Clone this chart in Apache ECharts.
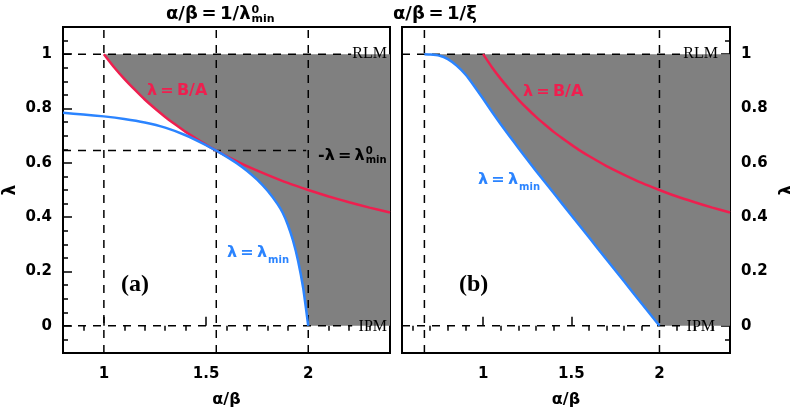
<!DOCTYPE html>
<html><head><meta charset="utf-8">
<script src="https://cdn.jsdelivr.net/npm/echarts@6/dist/echarts.min.js"></script>
<style>html,body{margin:0;padding:0;background:#fff}#c{width:790px;height:408px}</style>
</head><body><div id="c"></div>
<script>
// ---- data ----
const redA = [[1,1],[1.05,0.952],[1.1,0.909],[1.15,0.870],[1.2,0.833],[1.25,0.8],[1.3,0.769],[1.35,0.741],[1.4,0.714],[1.45,0.690],[1.5,0.667],[1.55,0.645],[1.6,0.625],[1.7,0.588],[1.8,0.556],[1.9,0.526],[2.0,0.5],[2.1,0.476],[2.2,0.455],[2.3,0.435],[2.4,0.417]];
const blueA = [[0.8,0.784],[0.9,0.778],[1.0,0.771],[1.1,0.7615],[1.2,0.7485],[1.3,0.7295],[1.4,0.7015],[1.5,0.6655],[1.55,0.645],[1.6,0.623],[1.65,0.599],[1.7,0.571],[1.75,0.538],[1.8,0.498],[1.85,0.448],[1.875,0.416],[1.9,0.372],[1.925,0.315],[1.95,0.24],[1.975,0.14],[2.0,0]];
const redB = redA;
const blueB = [[0.667,1.0],[0.7,0.999],[0.75,0.995],[0.8,0.982],[0.85,0.958],[0.9,0.925],[0.95,0.882],[1.0,0.836],[1.05,0.788],[1.1,0.742],[1.15,0.698],[1.2,0.655],[1.25,0.612],[1.3,0.57],[1.4,0.489],[1.5,0.407],[1.6,0.326],[1.7,0.244],[1.8,0.163],[1.9,0.081],[2.0,0]];
const lamMin0 = 0.645;      // λ⁰min
const xCross = 1.55;        // α/β = 1/λ⁰min
const xXi = 0.667;          // α/β = 1/ξ
const xRangeA = [0.8, 2.4];
const xRangeB = [0.54, 2.4];
const yRange = [-0.1, 1.1];
const xMajor = [1, 1.5, 2];
const xMinorA = [0.9,1.1,1.2,1.3,1.4,1.6,1.7,1.8,1.9,2.1,2.2,2.3];
const xMinorB = [0.6,0.7,0.8,0.9,1.1,1.2,1.3,1.4,1.6,1.7,1.8,1.9,2.1,2.2,2.3];
const yMajor = [0,0.2,0.4,0.6,0.8,1];
const yMinor = [-0.05,0.05,0.1,0.15,0.25,0.3,0.35,0.45,0.5,0.55,0.65,0.7,0.75,0.85,0.9,0.95,1.05];
// dashed guide lines
const dashA = [
  [[1,-0.1],[1,1.1]], [[xCross,-0.1],[xCross,1.1]], [[2,-0.1],[2,1.1]],
  [[0.8,1],[2.21,1]], [[0.8,0],[2.215,0]], [[0.8,lamMin0],[1.99,lamMin0]]
];
const dashB = [
  [[xXi,-0.1],[xXi,1.1]], [[2,-0.1],[2,1.1]],
  [[0.54,1],[2.137,1]], [[0.54,0],[2.13,0]]
];
// shaded region boundaries
const fillA = [].concat(redA.filter(p=>p[0]<=xCross), blueA.filter(p=>p[0]>xCross), [[2.4,0],[2.4,1]]);
const fillB = [].concat(blueB, [[2.4,0],[2.4,1]]);

const RED = '#ee1f4f', BLUE = '#2b84ff', GRAY = '#808080';
const FF = 'DejaVu Sans';
const TS = '\u2009';

const chart = echarts.init(document.getElementById('c'), null, {renderer:'canvas'});
const mctx = document.createElement('canvas').getContext('2d');
function tw(text, font){ mctx.font = font; return mctx.measureText(text).width; }

function xAxes(grid, range, minor, name){
  return [
    {gridIndex:grid, type:'value', min:range[0], max:range[1], name:name, nameLocation:'middle', nameGap:39,
     nameTextStyle:{fontFamily:FF, fontSize:16, fontWeight:'bold', color:'#000'},
     axisLine:{show:false}, splitLine:{show:false},
     axisTick:{inside:true, length:9, customValues:xMajor, lineStyle:{color:'#000', width:1.5}},
     axisLabel:{customValues:xMajor, margin:14, fontFamily:FF, fontSize:15, fontWeight:'bold', color:'#000'}},
    {gridIndex:grid, type:'value', min:range[0], max:range[1],
     axisLine:{show:false}, splitLine:{show:false},
     axisTick:{inside:true, length:5, customValues:minor, lineStyle:{color:'#000', width:1.5}},
     axisLabel:{show:false}}
  ];
}
function yAxes(grid, pos, gap){
  return [
    {gridIndex:grid, type:'value', position:pos, min:yRange[0], max:yRange[1], name:'λ', nameLocation:'middle', nameGap:gap, nameRotate:90,
     nameTextStyle:{fontFamily:FF, fontSize:17, fontWeight:'bold', color:'#000'},
     axisLine:{show:false}, splitLine:{show:false},
     axisTick:{inside:true, length:9, customValues:yMajor, lineStyle:{color:'#000', width:1.5}},
     axisLabel:{customValues:yMajor, margin:11, fontFamily:FF, fontSize:15, fontWeight:'bold', color:'#000'}},
    {gridIndex:grid, type:'value', position:pos, min:yRange[0], max:yRange[1],
     axisLine:{show:false}, splitLine:{show:false},
     axisTick:{inside:true, length:5, customValues:yMinor, lineStyle:{color:'#000', width:1.5}},
     axisLabel:{show:false}}
  ];
}
function polySeries(xi, yi, pts){
  return {type:'custom', xAxisIndex:xi, yAxisIndex:yi, silent:true, z:1, data:[[pts[0][0], pts[0][1]]],
    renderItem:function(params, api){
      return {type:'polygon', shape:{points:pts.map(p=>api.coord(p))}, style:{fill:GRAY}};
    }};
}
function dashSeries(xi, yi, segs){
  return segs.map(s=>({type:'line', xAxisIndex:xi, yAxisIndex:yi, data:s, symbol:'none', silent:true, z:3,
    lineStyle:{color:'#000', width:1.5, type:[8,7]}}));
}
function curve(xi, yi, data, color){
  return {type:'line', xAxisIndex:xi, yAxisIndex:yi, data:data, symbol:'none', smooth:0.15, z:4, silent:true,
    lineStyle:{color:color, width:2.5}};
}
function txt(x, y, text, style){
  return {type:'text', x:x, y:y, z:50, style:Object.assign({text:text, fill:'#000', font:'bold 15px '+FF, textVerticalAlign:'middle'}, style||{})};
}
// main text followed by stacked superscript / subscript
function lam(x, y, main, sup, sub, color, font, small, dy1, dy2){
  const w = tw(main, font);
  const out = [txt(x, y, main, {fill:color, font:font})];
  if (sup) out.push(txt(x + w + 1, y + dy1, sup, {fill:color, font:small}));
  if (sub) out.push(txt(x + w + 1, y + dy2, sub, {fill:color, font:small}));
  return out;
}
const FM = 'bold 16px ' + FF, FS = 'bold 10px ' + FF;

const option = {
  animation:false,
  backgroundColor:'#fff',
  grid:[
    {left:63, top:27, width:327, height:326, containLabel:false, outerBoundsMode:'none', show:true, borderColor:'#000', borderWidth:2, backgroundColor:'transparent'},
    {left:402, top:27, width:328, height:326, containLabel:false, outerBoundsMode:'none', show:true, borderColor:'#000', borderWidth:2, backgroundColor:'transparent'}
  ],
  xAxis: [].concat(xAxes(0, xRangeA, xMinorA, 'α/β'), xAxes(1, xRangeB, xMinorB, 'α/β')),
  yAxis: [].concat(yAxes(0,'left',44), yAxes(1,'right',49)),
  series: [].concat(
    [polySeries(0,0,fillA), polySeries(2,2,fillB)],
    dashSeries(0,0,dashA), dashSeries(2,2,dashB),
    [curve(0,0,redA,RED), curve(0,0,blueA,BLUE), curve(2,2,redB,RED), curve(2,2,blueB,BLUE)]
  ),
  graphic: [].concat(
    // titles
    lam(166, 14, 'α/β'+TS+'='+TS+'1/λ', '0', 'min', '#000', 'bold 18px '+FF, 'bold 11px '+FF, -4, 5),
    [txt(393, 14, 'α/β'+TS+'='+TS+'1/ξ', {font:'bold 18px '+FF})],
    // panel a annotations
    [txt(147, 91, 'λ'+TS+'='+TS+'B/A', {fill:RED, font:FM})],
    lam(227, 253, 'λ'+TS+'='+TS+'λ', null, 'min', BLUE, FM, FS, 0, 7),
    lam(318, 156, '-λ'+TS+'='+TS+'λ', '0', 'min', '#000', FM, FS, -5, 4),
    [
      txt(387, 54, 'RLM', {font:'16px Liberation Serif', textAlign:'right'}),
      txt(387, 327, 'IPM', {font:'16px Liberation Serif', textAlign:'right'}),
      txt(121, 285, '(a)', {font:'bold 24px Liberation Serif'}),
    // panel b annotations
      txt(523, 92, 'λ'+TS+'='+TS+'B/A', {fill:RED, font:FM})
    ],
    lam(478, 180, 'λ'+TS+'='+TS+'λ', null, 'min', BLUE, FM, FS, 0, 7),
    [
      txt(718, 54, 'RLM', {font:'16px Liberation Serif', textAlign:'right'}),
      txt(715, 327, 'IPM', {font:'16px Liberation Serif', textAlign:'right'}),
      txt(459, 285, '(b)', {font:'bold 24px Liberation Serif'})
    ]
  )
};
chart.setOption(option);
</script>
</body></html>
